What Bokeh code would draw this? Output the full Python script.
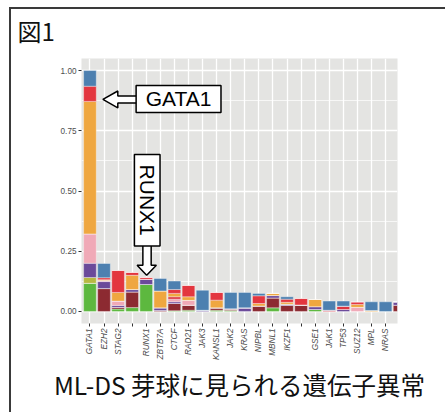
import math
from bokeh.plotting import figure
from bokeh.models import (ColumnDataSource, FixedTicker, Label, Title,
                          Range1d, NumeralTickFormatter)
from bokeh.embed import file_html
from bokeh.resources import INLINE

# ---------------- data ----------------
genes = ["GATA1", "EZH2", "STAG2", " ", "RUNX1", "ZBTB7A", "CTCF", "RAD21", "JAK3",
         "KANSL1", "JAK2", "KRAS", "NIPBL", "MBNL1", "IKZF1", "  ", "GSE1", "JAK1",
         "TP53", "SUZ12", "MPL", "NRAS", "   "]

green   = [0.117, 0.000, 0.010, 0.016, 0.112, 0.000, 0.003, 0.005, 0.000, 0.005, 0.004, 0.000,
           0.000, 0.015, 0.000, 0.000, 0.008, 0.000, 0.000, 0.000, 0.000, 0.000, 0.000]
darkred = [0.000, 0.095, 0.007, 0.065, 0.000, 0.004, 0.030, 0.021, 0.000, 0.010, 0.007, 0.000,
           0.023, 0.041, 0.025, 0.027, 0.000, 0.000, 0.000, 0.000, 0.000, 0.000, 0.026]
olive   = [0.024, 0.000, 0.000, 0.000, 0.000, 0.000, 0.000, 0.000, 0.000, 0.000, 0.000, 0.000,
           0.000, 0.000, 0.000, 0.000, 0.000, 0.000, 0.000, 0.000, 0.000, 0.000, 0.000]
purple  = [0.059, 0.029, 0.008, 0.010, 0.022, 0.011, 0.007, 0.000, 0.005, 0.000, 0.000, 0.015,
           0.000, 0.010, 0.005, 0.000, 0.012, 0.000, 0.008, 0.000, 0.000, 0.000, 0.014]
pink    = [0.122, 0.004, 0.018, 0.000, 0.000, 0.000, 0.011, 0.020, 0.000, 0.000, 0.000, 0.000,
           0.000, 0.000, 0.000, 0.000, 0.000, 0.000, 0.000, 0.017, 0.000, 0.000, 0.000]
red2    = [0.000, 0.000, 0.000, 0.000, 0.000, 0.000, 0.010, 0.000, 0.000, 0.000, 0.000, 0.000,
           0.000, 0.000, 0.000, 0.000, 0.000, 0.005, 0.014, 0.000, 0.000, 0.000, 0.000]
orange  = [0.550, 0.004, 0.036, 0.059, 0.000, 0.070, 0.014, 0.015, 0.000, 0.032, 0.000, 0.000,
           0.010, 0.009, 0.008, 0.000, 0.030, 0.000, 0.000, 0.012, 0.004, 0.000, 0.000]
red     = [0.063, 0.008, 0.091, 0.012, 0.007, 0.000, 0.016, 0.047, 0.000, 0.032, 0.000, 0.000,
           0.032, 0.000, 0.013, 0.027, 0.000, 0.000, 0.000, 0.010, 0.000, 0.000, 0.000]
blue    = [0.065, 0.059, 0.000, 0.000, 0.000, 0.052, 0.035, 0.000, 0.083, 0.000, 0.068, 0.064,
           0.010, 0.000, 0.010, 0.000, 0.000, 0.038, 0.021, 0.000, 0.036, 0.040, 0.000]

series_names = ["green", "darkred", "olive", "purple", "pink", "red2", "orange", "red", "blue"]
series_colors = ["#5DB83F", "#8C2A31", "#B7B942", "#6B4A9A", "#F0A9B7", "#DC3540",
                 "#EFA740", "#E3363F", "#4D80B0"]

y_ticks = [0.0, 0.25, 0.5, 0.75, 1.0]
y_minor = [0.125, 0.375, 0.625, 0.875]

fig_label = "図1"
caption = "ML-DS 芽球に見られる遺伝子異常"

xpos = list(range(1, len(genes) + 1))
data = dict(x=xpos, green=green, darkred=darkred, olive=olive, purple=purple, pink=pink,
            red2=red2, orange=orange, red=red, blue=blue)
src = ColumnDataSource(data)

# ---------------- figure ----------------
p = figure(width=445, height=412, output_backend="svg", toolbar_location=None,
           x_range=Range1d(0.4, 22.85), y_range=Range1d(-0.05, 1.05),
           min_border_left=81, min_border_right=48, min_border_top=57,
           min_border_bottom=89)
p.title.visible = False
p.outline_line_color = None
p.background_fill_color = "#E4E4E2"
p.border_fill_color = "white"

p.vbar_stack(series_names, x="x", width=0.9, source=src, color=series_colors,
             line_color="white", line_width=0.6, line_alpha=0.6)

# grid
p.xgrid.ticker = FixedTicker(ticks=xpos)
p.xgrid.grid_line_color = "white"
p.xgrid.grid_line_width = 1.3
p.ygrid.ticker = FixedTicker(ticks=y_ticks, minor_ticks=y_minor)
p.ygrid.grid_line_color = "white"
p.ygrid.grid_line_width = 1.3
p.ygrid.minor_grid_line_color = "white"
p.ygrid.minor_grid_line_width = 0.7

# axes
p.xaxis.ticker = FixedTicker(ticks=xpos)
p.xaxis.major_label_overrides = {i: g for i, g in zip(xpos, genes)}
p.xaxis.major_label_orientation = math.pi / 2
p.xaxis.major_label_text_font = "Liberation Sans"
p.xaxis.major_label_text_font_style = "italic"
p.xaxis.major_label_text_font_size = "8.2px"
p.xaxis.major_label_text_color = "#4D4D4D"
p.xaxis.major_label_standoff = 2
p.xaxis.axis_line_color = None
p.xaxis.major_tick_line_color = "#333333"
p.xaxis.major_tick_out = 3
p.xaxis.major_tick_in = 0
p.xaxis.minor_tick_line_color = None

p.yaxis.ticker = FixedTicker(ticks=y_ticks)
p.yaxis.formatter = NumeralTickFormatter(format="0.00")
p.yaxis.major_label_text_font = "Liberation Sans"
p.yaxis.major_label_text_font_size = "8.2px"
p.yaxis.major_label_text_color = "#4D4D4D"
p.yaxis.major_label_standoff = 2
p.yaxis.axis_line_color = None
p.yaxis.major_tick_line_color = "#333333"
p.yaxis.major_tick_out = 3
p.yaxis.major_tick_in = 0
p.yaxis.minor_tick_line_color = None

# ---------------- annotations (arrows + boxes) ----------------
# GATA1 block arrow (pointing left)
p.patch([1.92, 2.98, 2.98, 4.35, 4.35, 2.98, 2.98],
        [0.880, 0.915, 0.894, 0.894, 0.865, 0.865, 0.845],
        fill_color="white", line_color="black", line_width=1.5)
p.quad(left=[4.28], right=[10.31], top=[0.938], bottom=[0.826],
       fill_color="white", line_color="black", line_width=1.5)
p.add_layout(Label(x=7.3, y=0.882, text="GATA1", text_font="Liberation Sans",
                   text_font_size="21px", text_align="center", text_baseline="middle",
                   text_color="black"))

# RUNX1 block arrow (pointing down)
p.patch([5.03, 4.35, 4.76, 4.76, 5.35, 5.35, 5.72],
        [0.150, 0.192, 0.192, 0.280, 0.280, 0.192, 0.192],
        fill_color="white", line_color="black", line_width=1.5)
p.quad(left=[4.16], right=[5.98], top=[0.651], bottom=[0.272],
       fill_color="white", line_color="black", line_width=1.5)
p.add_layout(Label(x=5.07, y=0.462, text="RUNX1", text_font="Liberation Sans",
                   text_font_size="21px", text_align="center", text_baseline="middle",
                   angle=-math.pi / 2, text_color="black"))

# ---------------- page texts ----------------
p.add_layout(Title(text=fig_label, align="left", text_font="Noto Sans CJK JP",
                   text_font_style="normal", text_font_size="24px", text_color="#111111",
                   offset=-64, standoff=21), "above")
p.add_layout(Title(text=caption, align="center", text_font="Noto Sans CJK JP",
                   text_font_style="normal", text_font_size="24.5px", text_color="#111111",
                   standoff=4), "below")

# page frame (top + left rule only), drawn with gradients instead of borders
p.css_classes = ["pageframe"]
p.stylesheets = [":host(.pageframe) { position: relative; }"
                 ":host(.pageframe)::after { content: ''; position: absolute; left: 9px;"
                 " top: 7px; width: 436px; height: 405px; border: 0; outline: 0;"
                 " background:"
                 " linear-gradient(#3a3a3a, #3a3a3a) left top / 100% 2px no-repeat,"
                 " linear-gradient(#3a3a3a, #3a3a3a) left top / 2px 100% no-repeat;"
                 " pointer-events: none; }"]

open("out.html", "w").write(file_html(p, INLINE))
